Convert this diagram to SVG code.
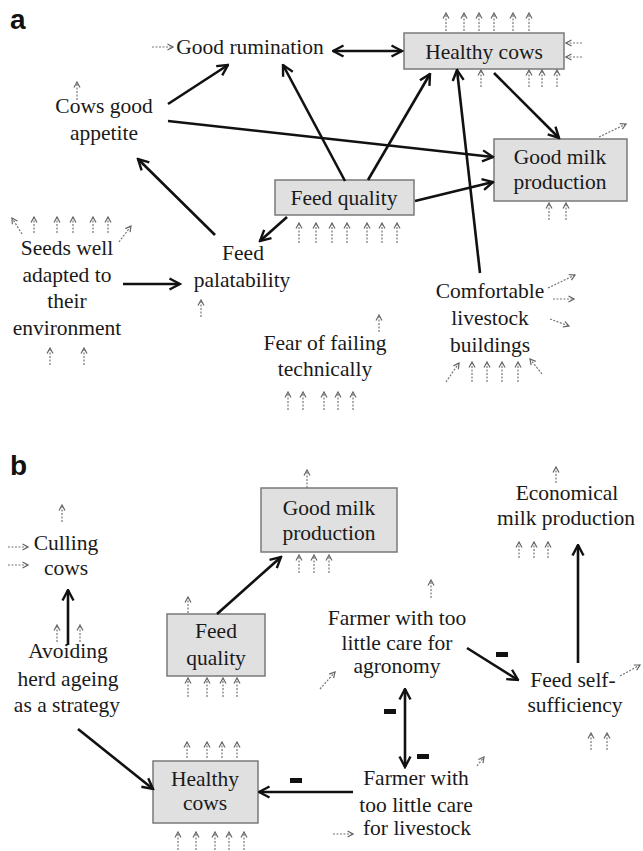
<svg xmlns="http://www.w3.org/2000/svg" width="643" height="851" viewBox="0 0 643 851">
<defs>
<marker id="ah" markerUnits="userSpaceOnUse" viewBox="0 0 14 14" refX="12.5" refY="7" markerWidth="14" markerHeight="14" orient="auto-start-reverse">
<path d="M2,1.5 L12.5,7 L2,12.5" fill="none" stroke="#111" stroke-width="2.4"/>
</marker>
<marker id="dh" markerUnits="userSpaceOnUse" viewBox="0 0 8 8" refX="7" refY="4" markerWidth="8" markerHeight="8" orient="auto">
<path d="M1.5,1 L7,4 L1.5,7" fill="none" stroke="#666" stroke-width="1.2"/>
</marker>
</defs>
<style>
.t{font-family:"Liberation Serif","Times New Roman",serif;font-size:21.5px;fill:#1a1a1a;text-anchor:middle}
.lab{font-family:"Liberation Sans",Arial,sans-serif;font-size:28px;font-weight:bold;fill:#111}
.box{fill:#e0e0e0;stroke:#7a7a7a;stroke-width:1.5}
.s{stroke:#111;stroke-width:2.6;fill:none;marker-end:url(#ah)}
.sb{stroke:#111;stroke-width:2.6;fill:none;marker-end:url(#ah);marker-start:url(#ah)}
.d{stroke:#777;stroke-width:1.2;stroke-dasharray:2 1.5;fill:none;marker-end:url(#dh)}
.m{fill:#111}
</style>
<rect width="643" height="851" fill="#fff"/>
<text class="lab" x="10" y="29">a</text>
<text class="lab" x="10" y="475">b</text>

<!-- Panel a nodes -->
<g id="a-good-rumination"><text class="t" x="250" y="54">Good rumination</text></g>
<g id="a-healthy-cows"><rect class="box" x="404" y="33" width="160" height="36"/><text class="t" x="484" y="59">Healthy cows</text></g>
<g id="a-good-milk"><rect class="box" x="494" y="139" width="133" height="62"/><text class="t" x="560" y="164">Good milk</text><text class="t" x="560" y="189">production</text></g>
<g id="a-cows-appetite"><text class="t" x="104" y="113">Cows good</text><text class="t" x="104" y="140">appetite</text></g>
<g id="a-feed-quality"><rect class="box" x="275" y="180" width="139" height="35"/><text class="t" x="344" y="205">Feed quality</text></g>
<g id="a-seeds"><text class="t" x="67" y="255">Seeds well</text><text class="t" x="67" y="282">adapted to</text><text class="t" x="67" y="308">their</text><text class="t" x="67" y="335">environment</text></g>
<g id="a-feed-palatability"><text class="t" x="243" y="260">Feed</text><text class="t" x="242" y="287">palatability</text></g>
<g id="a-fear"><text class="t" x="325" y="350">Fear of failing</text><text class="t" x="325" y="376">technically</text></g>
<g id="a-comfortable"><text class="t" x="490" y="298">Comfortable</text><text class="t" x="490" y="325">livestock</text><text class="t" x="490" y="352">buildings</text></g>

<!-- Panel b nodes -->
<g id="b-culling"><text class="t" x="66" y="550">Culling</text><text class="t" x="66" y="575">cows</text></g>
<g id="b-avoiding"><text class="t" x="68" y="658">Avoiding</text><text class="t" x="68" y="686">herd ageing</text><text class="t" x="67" y="712">as a strategy</text></g>
<g id="b-good-milk"><rect class="box" x="261" y="488" width="136" height="64"/><text class="t" x="329" y="515">Good milk</text><text class="t" x="329" y="540">production</text></g>
<g id="b-feed-quality"><rect class="box" x="167" y="614" width="98" height="62"/><text class="t" x="216" y="638">Feed</text><text class="t" x="216" y="665">quality</text></g>
<g id="b-healthy-cows"><rect class="box" x="153" y="761" width="105" height="62"/><text class="t" x="205" y="786">Healthy</text><text class="t" x="205" y="810">cows</text></g>
<g id="b-economical"><text class="t" x="567" y="500">Economical</text><text class="t" x="566" y="525">milk production</text></g>
<g id="b-farmer-agronomy"><text class="t" x="397" y="625">Farmer with too</text><text class="t" x="397" y="650">little care for</text><text class="t" x="397" y="673">agronomy</text></g>
<g id="b-feed-self"><text class="t" x="573" y="687">Feed self-</text><text class="t" x="575" y="712">sufficiency</text></g>
<g id="b-farmer-livestock"><text class="t" x="416" y="785">Farmer with</text><text class="t" x="416" y="812">too little care</text><text class="t" x="417" y="835">for livestock</text></g>

<g id="connectors">
<!-- panel a solid -->
<line class="sb" x1="333" y1="51" x2="402" y2="51"/>
<line class="s" x1="168" y1="104" x2="228" y2="65"/>
<line class="s" x1="168" y1="121" x2="493" y2="157"/>
<line class="s" x1="345" y1="181" x2="283" y2="65"/>
<line class="s" x1="368" y1="180" x2="430" y2="74"/>
<line class="s" x1="480" y1="273" x2="457" y2="70"/>
<line class="s" x1="494" y1="73" x2="559" y2="138"/>
<line class="s" x1="415" y1="201" x2="493" y2="182"/>
<line class="s" x1="215" y1="235" x2="138" y2="159"/>
<line class="s" x1="287" y1="217" x2="260" y2="241"/>
<line class="s" x1="123" y1="284" x2="180" y2="284"/>
<!-- panel b solid -->
<line class="s" x1="68" y1="645" x2="68" y2="590"/>
<line class="s" x1="78" y1="729" x2="153" y2="789"/>
<line class="s" x1="353" y1="792" x2="259" y2="792"/>
<line class="s" x1="217" y1="614" x2="281" y2="557"/>
<line class="s" x1="467" y1="648" x2="518" y2="680"/>
<line class="sb" x1="405" y1="689" x2="405" y2="767"/>
<line class="s" x1="578" y1="663" x2="578" y2="545"/>
<!-- minus signs -->
<rect class="m" x="290" y="778" width="12" height="5"/>
<rect class="m" x="496" y="652" width="12" height="5"/>
<rect class="m" x="384" y="709" width="12" height="5"/>
<rect class="m" x="417" y="754" width="12" height="5"/>

<!-- panel a dashed -->
<line class="d" x1="152" y1="47" x2="173" y2="47"/>
<line class="d" x1="446" y1="31" x2="446" y2="13"/>
<line class="d" x1="464" y1="31" x2="464" y2="13"/>
<line class="d" x1="479" y1="31" x2="479" y2="13"/>
<line class="d" x1="494" y1="31" x2="494" y2="13"/>
<line class="d" x1="513" y1="31" x2="513" y2="13"/>
<line class="d" x1="529" y1="31" x2="529" y2="13"/>
<line class="d" x1="582" y1="43" x2="566" y2="43"/>
<line class="d" x1="582" y1="57" x2="566" y2="57"/>
<line class="d" x1="481" y1="87" x2="481" y2="70"/>
<line class="d" x1="529" y1="87" x2="529" y2="70"/>
<line class="d" x1="542" y1="87" x2="542" y2="70"/>
<line class="d" x1="557" y1="87" x2="557" y2="70"/>
<line class="d" x1="599" y1="137" x2="626" y2="124"/>
<line class="d" x1="549" y1="220" x2="549" y2="203"/>
<line class="d" x1="566" y1="220" x2="566" y2="203"/>
<line class="d" x1="77" y1="100" x2="77" y2="82"/>
<line class="d" x1="22" y1="234" x2="12" y2="218"/>
<line class="d" x1="34" y1="233" x2="34" y2="217"/>
<line class="d" x1="57" y1="233" x2="57" y2="217"/>
<line class="d" x1="73" y1="233" x2="73" y2="217"/>
<line class="d" x1="93" y1="233" x2="93" y2="217"/>
<line class="d" x1="108" y1="233" x2="108" y2="217"/>
<line class="d" x1="119" y1="242" x2="131" y2="226"/>
<line class="d" x1="50" y1="365" x2="50" y2="348"/>
<line class="d" x1="84" y1="365" x2="84" y2="348"/>
<line class="d" x1="201" y1="317" x2="201" y2="300"/>
<line class="d" x1="299" y1="243" x2="299" y2="223"/>
<line class="d" x1="316" y1="243" x2="316" y2="223"/>
<line class="d" x1="332" y1="243" x2="332" y2="223"/>
<line class="d" x1="347" y1="243" x2="347" y2="223"/>
<line class="d" x1="367" y1="243" x2="367" y2="223"/>
<line class="d" x1="382" y1="243" x2="382" y2="223"/>
<line class="d" x1="397" y1="243" x2="397" y2="223"/>
<line class="d" x1="379" y1="332" x2="379" y2="315"/>
<line class="d" x1="288" y1="410" x2="288" y2="392"/>
<line class="d" x1="303" y1="410" x2="303" y2="392"/>
<line class="d" x1="324" y1="410" x2="324" y2="392"/>
<line class="d" x1="338" y1="410" x2="338" y2="392"/>
<line class="d" x1="353" y1="410" x2="353" y2="392"/>
<line class="d" x1="548" y1="288" x2="575" y2="275"/>
<line class="d" x1="553" y1="299" x2="574" y2="299"/>
<line class="d" x1="550" y1="319" x2="569" y2="326"/>
<line class="d" x1="446" y1="382" x2="459" y2="363"/>
<line class="d" x1="472" y1="382" x2="472" y2="362"/>
<line class="d" x1="487" y1="382" x2="487" y2="362"/>
<line class="d" x1="502" y1="382" x2="502" y2="362"/>
<line class="d" x1="518" y1="382" x2="518" y2="362"/>
<line class="d" x1="542" y1="374" x2="530" y2="359"/>
<!-- panel b dashed -->
<line class="d" x1="62" y1="522" x2="62" y2="505"/>
<line class="d" x1="8" y1="547" x2="28" y2="547"/>
<line class="d" x1="8" y1="565" x2="28" y2="565"/>
<line class="d" x1="57" y1="642" x2="57" y2="625"/>
<line class="d" x1="80" y1="642" x2="80" y2="625"/>
<line class="d" x1="307" y1="488" x2="307" y2="470"/>
<line class="d" x1="299" y1="573" x2="299" y2="555"/>
<line class="d" x1="314" y1="573" x2="314" y2="555"/>
<line class="d" x1="329" y1="573" x2="329" y2="555"/>
<line class="d" x1="188" y1="613" x2="188" y2="597"/>
<line class="d" x1="188" y1="697" x2="188" y2="678"/>
<line class="d" x1="207" y1="697" x2="207" y2="678"/>
<line class="d" x1="223" y1="697" x2="223" y2="678"/>
<line class="d" x1="237" y1="697" x2="237" y2="678"/>
<line class="d" x1="187" y1="758" x2="187" y2="742"/>
<line class="d" x1="207" y1="758" x2="207" y2="742"/>
<line class="d" x1="222" y1="758" x2="222" y2="742"/>
<line class="d" x1="237" y1="758" x2="237" y2="742"/>
<line class="d" x1="178" y1="850" x2="178" y2="832"/>
<line class="d" x1="196" y1="850" x2="196" y2="832"/>
<line class="d" x1="215" y1="850" x2="215" y2="832"/>
<line class="d" x1="229" y1="850" x2="229" y2="832"/>
<line class="d" x1="244" y1="850" x2="244" y2="832"/>
<line class="d" x1="556" y1="483" x2="556" y2="467"/>
<line class="d" x1="519" y1="558" x2="519" y2="542"/>
<line class="d" x1="534" y1="558" x2="534" y2="542"/>
<line class="d" x1="548" y1="558" x2="548" y2="542"/>
<line class="d" x1="431" y1="598" x2="431" y2="580"/>
<line class="d" x1="320" y1="689" x2="335" y2="672"/>
<line class="d" x1="620" y1="676" x2="640" y2="665"/>
<line class="d" x1="591" y1="750" x2="591" y2="733"/>
<line class="d" x1="607" y1="750" x2="607" y2="733"/>
<line class="d" x1="477" y1="766" x2="484" y2="757"/>
<line class="d" x1="333" y1="834" x2="353" y2="834"/>
</g>
</svg>
